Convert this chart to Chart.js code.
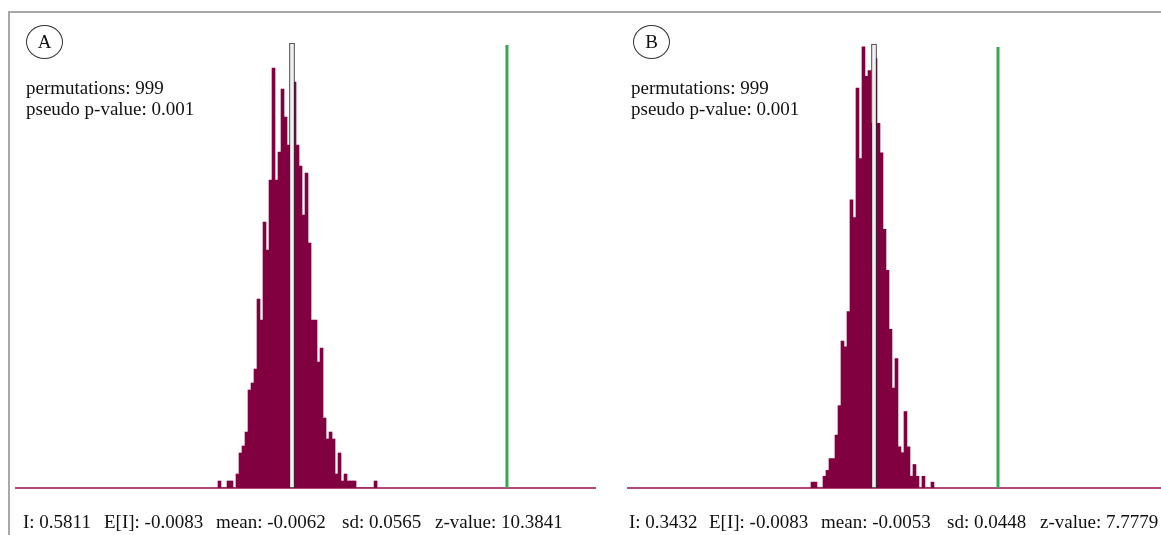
<!DOCTYPE html>
<html><head><meta charset="utf-8">
<script src="https://cdn.jsdelivr.net/npm/chart.js@4.4.1/dist/chart.umd.min.js"></script>
<style>
html,body{margin:0;padding:0;background:#fff;width:1161px;height:535px;overflow:hidden;}
body{position:relative;font-family:"Liberation Serif","Times New Roman",serif;color:#111;}
.frame{position:absolute;left:8px;top:11px;width:1170px;height:540px;border-left:2px solid #a8a8a8;border-top:2px solid #a8a8a8;}
canvas{position:absolute;top:0;}
.txt{position:absolute;font-size:19px;white-space:pre;line-height:19px;}
.circ{position:absolute;border:1px solid #333;border-radius:50%;width:35px;height:32px;text-align:center;font-size:19px;line-height:32px;}
</style></head>
<body>
<div class="frame"></div>
<canvas id="cA" width="600" height="535" style="left:0px"></canvas>
<canvas id="cB" width="561" height="535" style="left:600px"></canvas>

<div class="circ" style="left:26px;top:25px">A</div>
<div class="txt" style="left:26px;top:78px">permutations: 999</div>
<div class="txt" style="left:26px;top:99px">pseudo p-value: 0.001</div>

<div class="circ" style="left:633px;top:25px">B</div>
<div class="txt" style="left:631px;top:78px">permutations: 999</div>
<div class="txt" style="left:631px;top:99px">pseudo p-value: 0.001</div>

<div class="txt" style="left:23px;top:512px">I: 0.5811</div>
<div class="txt" style="left:104px;top:512px">E[I]: -0.0083</div>
<div class="txt" style="left:216px;top:512px">mean: -0.0062</div>
<div class="txt" style="left:342px;top:512px">sd: 0.0565</div>
<div class="txt" style="left:435px;top:512px">z-value: 10.3841</div>

<div class="txt" style="left:629px;top:512px">I: 0.3432</div>
<div class="txt" style="left:709px;top:512px">E[I]: -0.0083</div>
<div class="txt" style="left:821px;top:512px">mean: -0.0053</div>
<div class="txt" style="left:947px;top:512px">sd: 0.0448</div>
<div class="txt" style="left:1040px;top:512px">z-value: 7.7779</div>

<script>
// ---- Panel A data (counts per bin of permuted Moran's I) ----
const countsA = [1,0,0,1,1,0,2,5,6,8,14,15,17,27,24,38,34,44,60,44,48,57,53,49,47,58,49,46,39,45,35,24,24,18,20,10,7,8,7,2,5,1,2,1,1,1,0,0,0,0,0,0,1];
const binStartA = -0.2084;
const binWidthA = 0.0082;
const statsA = {I: 0.5811, mean: -0.0062};
const xRangeA = [-0.7603, 0.8217];
const yMaxA = 63.6;
const greenTopA = 63.3;

// ---- Panel B data ----
const countsB = [1,1,0,0,2,3,5,5,9,14,25,24,30,49,46,68,56,75,70,71,62,73,62,57,44,37,27,17,22,7,6,13,7,2,4,2,0,2,0,0,1];
const binStartB = -0.1824;
const binWidthB = 0.00843;
const statsB = {I: 0.3432, mean: -0.0053};
const xRangeB = [-0.6967, 0.8013];
const yMaxB = 75.5;
const greenTopB = 75.0;

const BAR = '#800040';
const AXIS = '#b04a7c';
const GREEN = '#34a853';

function makeChart(id, counts, start, width, stats, xr, yMax, gTop, pad) {
  const hist = counts.map((c, i) => ({x: start + (i + 0.5) * width, y: c}));
  new Chart(document.getElementById(id), {
    type: 'bar',
    data: {datasets: [
      {type: 'bar', data: hist, backgroundColor: BAR, borderWidth: 0, barThickness: 3, grouped: false, order: 2},
      {type: 'bar', data: [{x: stats.mean, y: yMax}], backgroundColor: '#f0f0f0', borderColor: '#2a2a2a', borderWidth: 1, borderSkipped: false, barThickness: 5, grouped: false, order: 0},
      {type: 'line', data: [{x: stats.I, y: 0}, {x: stats.I, y: gTop}], borderColor: GREEN, borderWidth: 3, pointRadius: 0, order: 1}
    ]},
    options: {
      responsive: false, animation: false, events: [],
      layout: {padding: pad},
      plugins: {legend: {display: false}, tooltip: {enabled: false}},
      scales: {
        x: {type: 'linear', min: xr[0], max: xr[1], offset: false,
            grid: {display: false, drawTicks: false, offset: false}, ticks: {display: false},
            border: {display: true, color: AXIS, width: 2}},
        y: {display: false, min: 0, max: yMax}
      }
    }
  });
}
makeChart('cA', countsA, binStartA, binWidthA, statsA, xRangeA, yMaxA, greenTopA, {left: 16, right: 5, top: 43, bottom: 47});
makeChart('cB', countsB, binStartB, binWidthB, statsB, xRangeB, yMaxB, greenTopB, {left: 28, right: 0, top: 44, bottom: 47});
</script>
</body></html>
